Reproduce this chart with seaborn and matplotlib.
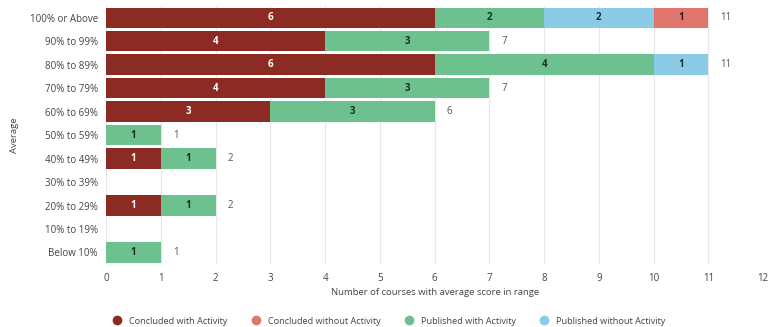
import matplotlib
matplotlib.use("Agg")
import matplotlib.pyplot as plt
import seaborn as sns
import numpy as np
import pandas as pd
from matplotlib.lines import Line2D

categories = ['100% or Above', '90% to 99%', '80% to 89%', '70% to 79%', '60% to 69%',
              '50% to 59%', '40% to 49%', '30% to 39%', '20% to 29%', '10% to 19%', 'Below 10%']
concluded_with = [6, 4, 6, 4, 3, 0, 1, 0, 1, 0, 0]
published_with = [2, 3, 4, 3, 3, 1, 1, 0, 1, 0, 1]
published_without = [2, 0, 1, 0, 0, 0, 0, 0, 0, 0, 0]
concluded_without = [1, 0, 0, 0, 0, 0, 0, 0, 0, 0, 0]
x_ticks = list(range(0, 13))

# stacking order in bars
series = [
    ("Concluded with Activity", concluded_with, "#8c2b24", "white"),
    ("Published with Activity", published_with, "#6cc18f", "#1f2d24"),
    ("Published without Activity", published_without, "#8ccbe6", "#1f2d3a"),
    ("Concluded without Activity", concluded_without, "#e0766b", "#3a1a16"),
]
legend_order = ["Concluded with Activity", "Concluded without Activity",
                "Published with Activity", "Published without Activity"]

sns.set_theme(style="white")
plt.rcParams['font.family'] = ['Open Sans', 'DejaVu Sans']

fig = plt.figure(figsize=(7.7, 3.27), dpi=100)
ax = fig.add_axes([0.138, 0.192, 0.853, 0.79])

vals = np.array([s[1] for s in series], dtype=float)
cums = np.cumsum(vals, axis=0)
totals = cums[-1]

# draw from outermost cumulative to innermost
for i in range(len(series) - 1, -1, -1):
    df = pd.DataFrame({"cat": categories, "val": cums[i]})
    sns.barplot(data=df, x="val", y="cat", order=categories, color=series[i][2],
                saturation=1, width=0.86, ax=ax, orient="h", linewidth=0)

for i, (name, v, col, tcol) in enumerate(series):
    starts = cums[i] - vals[i]
    for j, val in enumerate(v):
        if val > 0:
            ax.text(starts[j] + val / 2, j, f"{val}", ha="center", va="center",
                    fontsize=7, fontweight="bold", color=tcol)

for j, t in enumerate(totals):
    if t > 0:
        ax.text(t + 0.22, j, f"{int(t)}", ha="left", va="center", fontsize=7, color="#555555")

ax.set_xlim(0, 12)
ax.set_ylim(len(categories) - 0.5, -0.5)
ax.set_xticks(x_ticks)
ax.set_xticklabels([str(t) for t in x_ticks])
ax.xaxis.grid(True, color="#e6e6e6", linewidth=0.8)
ax.set_axisbelow(True)
for s in ax.spines.values():
    s.set_visible(False)
ax.tick_params(axis="both", length=0, labelsize=7, colors="#444444", pad=6)
ax.set_xlabel("Number of courses with average score in range", fontsize=6.8, color="#444444", labelpad=3)
ax.set_ylabel("Average", fontsize=6.8, color="#444444", labelpad=8)

colmap = {s[0]: s[2] for s in series}
handles = [Line2D([0], [0], marker="o", linestyle="", markersize=7,
                  markerfacecolor=colmap[n], markeredgewidth=0) for n in legend_order]
fig.legend(handles, legend_order, loc="center", bbox_to_anchor=(0.505, 0.018), ncol=4,
           frameon=False, fontsize=6.6, handlelength=1.0, handletextpad=0.8,
           columnspacing=2.6, labelcolor="#444444")

fig.savefig("out.png", dpi=100)
